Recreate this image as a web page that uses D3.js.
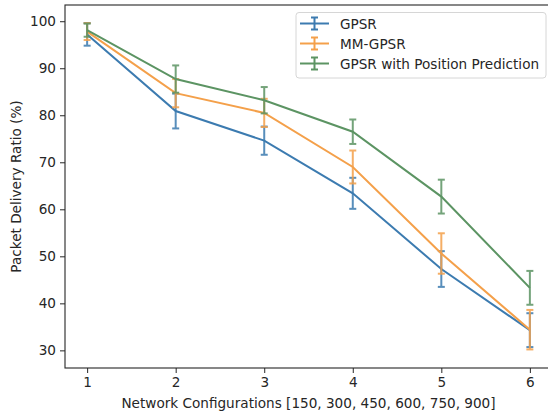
<!DOCTYPE html>
<html>
<head>
<meta charset="utf-8">
<script src="https://cdn.jsdelivr.net/npm/d3@7.9.0/dist/d3.min.js"></script>
<style>
  body { margin: 0; background: #fff; }
  svg { display: block; font-family: "DejaVu Sans", sans-serif; }
</style>
</head>
<body>
<svg id="chart" width="548" height="418"></svg>
<script>
// Data
const configs = [1, 2, 3, 4, 5, 6];
const yTicks = [30, 40, 50, 60, 70, 80, 90, 100];

const gpsr = [97.2, 80.9, 74.6, 63.4, 47.3, 34.3];
const gpsrErr = [2.4, 3.7, 3.0, 3.3, 3.8, 3.6];

const mmGpsr = [97.8, 84.7, 80.5, 69.0, 50.6, 34.4];
const mmGpsrErr = [1.8, 3.0, 3.0, 3.5, 4.3, 4.2];

const gpsrPred = [98.1, 87.7, 83.2, 76.5, 62.7, 43.3];
const gpsrPredErr = [1.4, 2.9, 2.8, 2.6, 3.6, 3.6];

const seriesNames = ["GPSR", "MM-GPSR", "GPSR with Position Prediction"];
const colors = ["#3c7bb0", "#f4a04a", "#5c9463"];

const series = [
  { name: seriesNames[0], values: gpsr, errs: gpsrErr, color: colors[0] },
  { name: seriesNames[1], values: mmGpsr, errs: mmGpsrErr, color: colors[1] },
  { name: seriesNames[2], values: gpsrPred, errs: gpsrPredErr, color: colors[2] },
];

const fontSize = 13.6;

const svg = d3.select("#chart");
const margin = { top: 5, right: -4, bottom: 50, left: 65 };
const width = 548 - margin.left - margin.right;
const height = 418 - margin.top - margin.bottom;

const x = d3.scaleLinear().domain([0.75, 6.25]).range([0, width]);
const y = d3.scaleLinear().domain([26.25, 103.45]).range([height, 0]);

const g = svg.append("g").attr("transform", `translate(${margin.left},${margin.top})`);

// axes
const xAxis = g.append("g")
  .attr("transform", `translate(0,${height})`)
  .call(d3.axisBottom(x).tickValues(configs).tickFormat(d3.format("d")).tickSize(5).tickPadding(4));
const yAxis = g.append("g")
  .call(d3.axisLeft(y).tickValues(yTicks).tickSize(5).tickPadding(4));

[xAxis, yAxis].forEach(a => {
  a.selectAll("text").attr("font-size", fontSize).attr("fill", "#262626").attr("font-family", "DejaVu Sans");
  a.selectAll("line").attr("stroke", "#262626").attr("stroke-width", 1);
  a.select(".domain").remove();
});

// spines
g.append("rect")
  .attr("x", 0).attr("y", 0)
  .attr("width", width).attr("height", height)
  .attr("fill", "none")
  .attr("stroke", "#262626")
  .attr("stroke-width", 1.1);

// lines + error bars
const line = d3.line()
  .x((d, i) => x(configs[i]))
  .y(d => y(d));

series.forEach(s => {
  g.append("path")
    .datum(s.values)
    .attr("fill", "none")
    .attr("stroke", s.color)
    .attr("stroke-width", 2)
    .attr("d", line);

  const eb = g.append("g").attr("stroke", s.color).attr("stroke-width", 2).attr("opacity", 0.85);
  s.values.forEach((v, i) => {
    const cx = x(configs[i]);
    const top = y(v + s.errs[i]);
    const bot = y(v - s.errs[i]);
    eb.append("line").attr("x1", cx).attr("x2", cx).attr("y1", top).attr("y2", bot);
    eb.append("line").attr("x1", cx - 3.5).attr("x2", cx + 3.5).attr("y1", top).attr("y2", top);
    eb.append("line").attr("x1", cx - 3.5).attr("x2", cx + 3.5).attr("y1", bot).attr("y2", bot);
  });
});

// axis labels
svg.append("text")
  .attr("x", margin.left + x(3.5))
  .attr("y", 408)
  .attr("text-anchor", "middle")
  .attr("font-size", fontSize)
  .attr("fill", "#262626")
  .text("Network Configurations [150, 300, 450, 600, 750, 900]");

svg.append("text")
  .attr("transform", `translate(21,${margin.top + height / 2}) rotate(-90)`)
  .attr("text-anchor", "middle")
  .attr("font-size", fontSize)
  .attr("fill", "#262626")
  .text("Packet Delivery Ratio (%)");

// legend
const legend = svg.append("g").attr("transform", "translate(296,12.5)");
legend.append("rect")
  .attr("width", 250).attr("height", 65.5)
  .attr("rx", 3)
  .attr("fill", "#fff")
  .attr("fill-opacity", 0.8)
  .attr("stroke", "#d6d6d6");

series.forEach((s, i) => {
  const ly = 11 + i * 20;
  const lg = legend.append("g").attr("stroke", s.color).attr("stroke-width", 2);
  lg.append("line").attr("x1", 4).attr("x2", 33).attr("y1", ly).attr("y2", ly);
  lg.append("line").attr("x1", 18.5).attr("x2", 18.5).attr("y1", ly - 6).attr("y2", ly + 6);
  lg.append("line").attr("x1", 15).attr("x2", 22).attr("y1", ly - 6).attr("y2", ly - 6);
  lg.append("line").attr("x1", 15).attr("x2", 22).attr("y1", ly + 6).attr("y2", ly + 6);
  legend.append("text")
    .attr("x", 44).attr("y", ly + 5)
    .attr("font-size", fontSize)
    .attr("fill", "#262626")
    .text(s.name);
});
</script>
</body>
</html>
